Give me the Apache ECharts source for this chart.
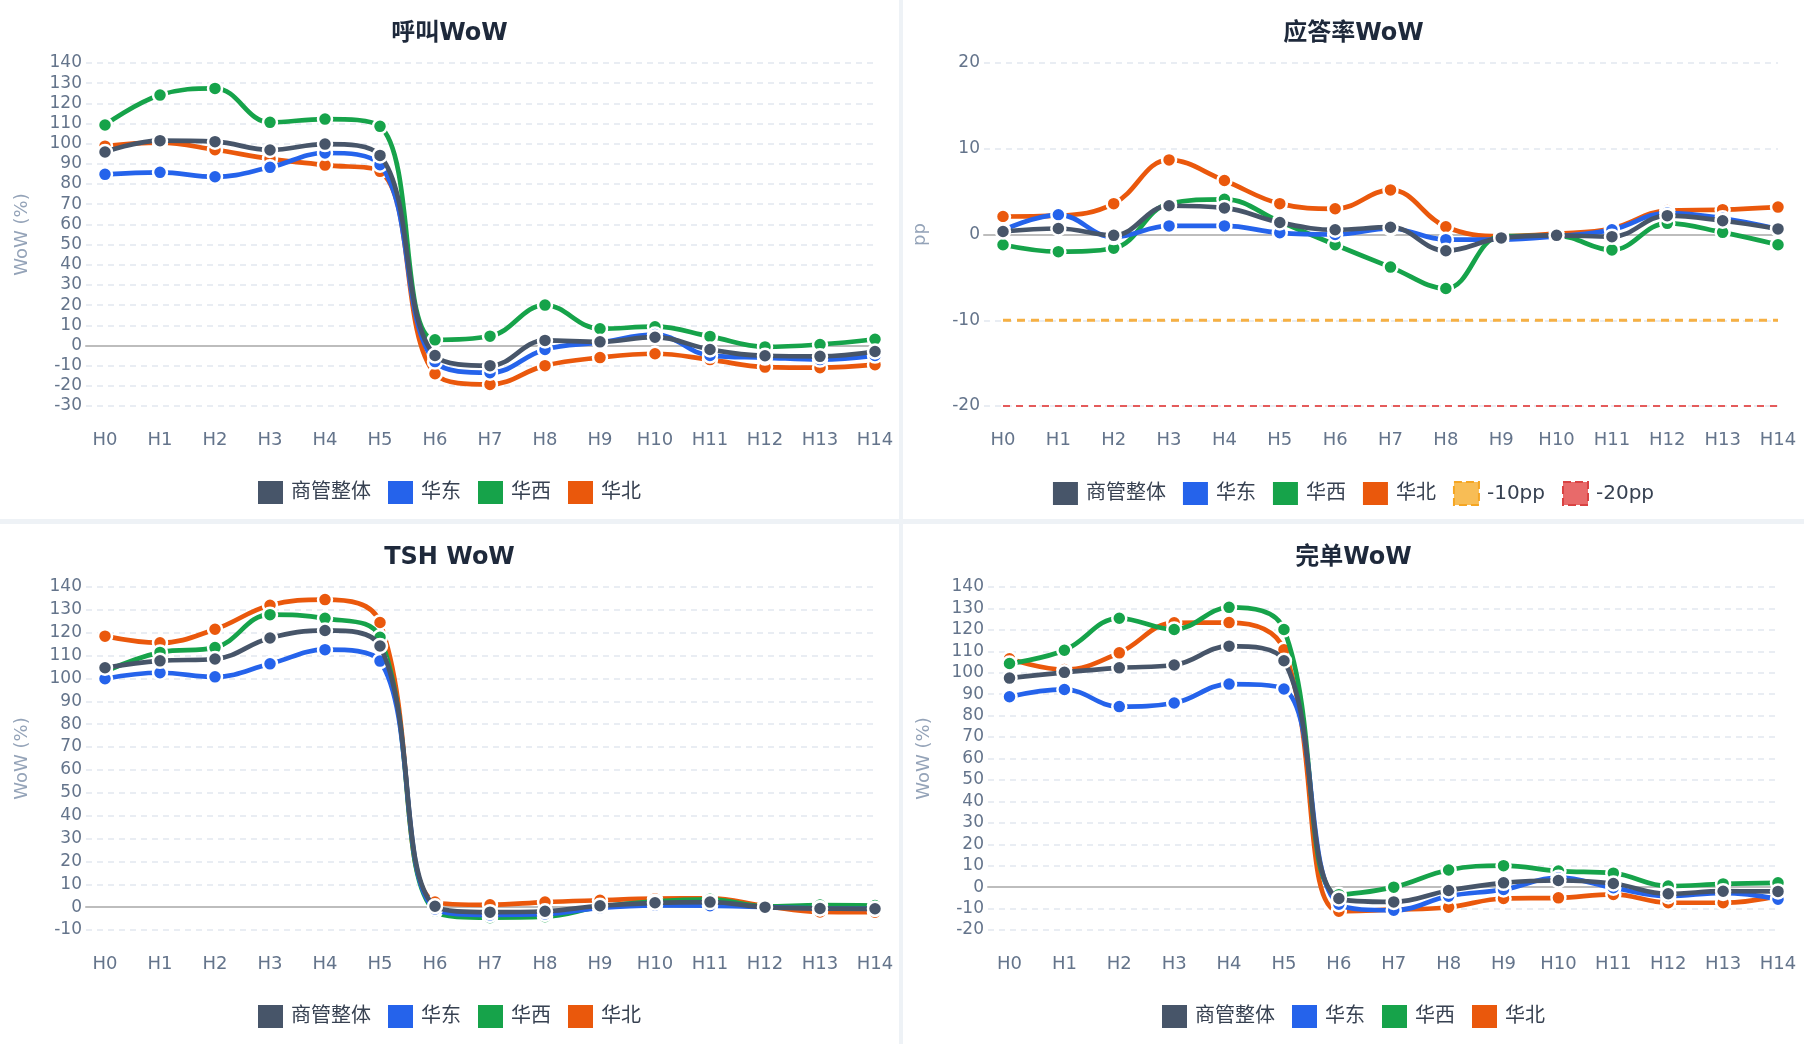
<!DOCTYPE html>
<html>
<head>
<meta charset="utf-8">
<script src="https://cdn.jsdelivr.net/npm/echarts@6/dist/echarts.min.js"></script>
<style>
html,body{margin:0;padding:0;background:#eef2f6;}
#wrap{display:grid;grid-template-columns:899px 901px;grid-template-rows:519px 520px;gap:5px 4px;width:1804px;height:1044px;}
.p{background:#fff;}
</style>
</head>
<body>
<div id="wrap">
<div class="p" id="c0"></div>
<div class="p" id="c1"></div>
<div class="p" id="c2"></div>
<div class="p" id="c3"></div>
</div>
<script>
const categories = ['H0','H1','H2','H3','H4','H5','H6','H7','H8','H9','H10','H11','H12','H13','H14'];
const seriesNames = ['商管整体','华东','华西','华北'];
const colors = ['#475569','#2563eb','#16a34a','#ea580c'];

// 呼叫WoW
const callTotal = [95.9, 101.5, 101, 96.9, 99.8, 94.2, -5, -10, 2.5, 1.8, 4.1, -2, -5.1, -5.4, -3];
const callEast  = [84.8, 85.8, 83.6, 88.3, 95.4, 89.6, -8, -13.5, -2, 1.5, 5.4, -5, -6, -7, -5];
const callWest  = [109.3, 124.1, 127.4, 110.6, 112.2, 108.6, 2.8, 4.6, 20, 8.3, 9.3, 4.5, -0.7, 0.5, 3.1];
const callNorth = [98.8, 100.5, 97, 92.5, 89.4, 86.3, -14, -19.3, -10, -6, -4.1, -7, -10.7, -11, -9.5];

// 应答率WoW (pp)
const ansTotal = [0.35, 0.7, -0.1, 3.35, 3.1, 1.4, 0.55, 0.85, -1.9, -0.4, -0.1, -0.25, 2.2, 1.6, 0.65];
const ansEast  = [0.5, 2.3, -0.3, 1.0, 1.0, 0.2, 0, 0.7, -0.6, -0.6, -0.2, 0.55, 2.5, 1.9, 0.65];
const ansWest  = [-1.2, -2.0, -1.6, 3.6, 4.1, 1.5, -1.2, -3.8, -6.3, -0.2, -0.15, -1.8, 1.3, 0.25, -1.2];
const ansNorth = [2.1, 2.2, 3.6, 8.7, 6.3, 3.6, 3.0, 5.2, 0.9, -0.2, 0.1, 0.7, 2.8, 2.9, 3.2];
const line10 = [-10,-10,-10,-10,-10,-10,-10,-10,-10,-10,-10,-10,-10,-10,-10];
const line20 = [-20,-20,-20,-20,-20,-20,-20,-20,-20,-20,-20,-20,-20,-20,-20];

// TSH WoW
const tshTotal = [104.7, 107.7, 108.5, 117.7, 121, 114.2, 0.4, -2.2, -1.8, 0.6, 1.9, 2.2, 0, -0.6, -0.7];
const tshEast  = [99.9, 102.5, 100.7, 106.4, 112.6, 107.6, -0.8, -3.4, -3, -0.3, 0.8, 0.6, 0, -0.5, -0.8];
const tshWest  = [103, 111.4, 113.5, 127.9, 126.3, 118, -1.8, -4.6, -4.2, 0.1, 2.5, 3.4, 0.3, 0.9, 0.7];
const tshNorth = [118.5, 115.6, 121.5, 132, 134.5, 124.5, 2.2, 1.0, 2.2, 3, 3.7, 3.8, 0.5, -2.1, -2.2];

// 完单WoW
const doneTotal = [97.5, 100.2, 102.3, 103.6, 112.4, 105.6, -5.3, -6.9, -1.6, 2, 3.1, 1.7, -3.1, -1.9, -2];
const doneEast  = [88.8, 92.2, 84.2, 85.9, 94.7, 92.4, -8, -10.8, -4.2, -1.1, 4.4, -0.3, -4.2, -2.7, -5.6];
const doneWest  = [104.3, 110.5, 125.4, 120.2, 130.5, 120.2, -3.5, 0, 8, 10, 7.5, 6.5, 0.5, 1.5, 2];
const doneNorth = [106.5, 101.5, 109.3, 123.3, 123.4, 110.7, -11.2, -10.5, -9.4, -5.3, -5, -3.4, -7.3, -7.3, -4.2];

const FONT = "'DejaVu Sans','Noto Sans CJK SC',sans-serif";

const panels = [
  {el:'c0', title:'呼叫WoW', yName:'WoW (%)', min:-30, max:140, interval:10, leftA:86, leftB:105, right:24, data:[callTotal,callEast,callWest,callNorth]},
  {el:'c1', title:'应答率WoW', yName:'pp', min:-20, max:20, interval:10, leftA:80, leftB:100, right:26, data:[ansTotal,ansEast,ansWest,ansNorth], thresholds:true},
  {el:'c2', title:'TSH WoW', yName:'WoW (%)', min:-10, max:140, interval:10, leftA:86, leftB:105, right:24, data:[tshTotal,tshEast,tshWest,tshNorth]},
  {el:'c3', title:'完单WoW', yName:'WoW (%)', min:-20, max:140, interval:10, leftA:85, leftB:106.5, right:26, data:[doneTotal,doneEast,doneWest,doneNorth]}
];

panels.forEach(p => {
  const chart = echarts.init(document.getElementById(p.el), null, {renderer:'canvas'});
  const series = [];
  const zs = [5,4,3,2];
  p.data.forEach((d,i) => {
    series.push({
      name: seriesNames[i], type:'line', xAxisIndex:1, yAxisIndex:1,
      data: d, smooth: 0.4, symbol:'circle', symbolSize:14, showAllSymbol:true,
      z: zs[i],
      lineStyle:{width:4.7, color:colors[i]},
      itemStyle:{color:colors[i], borderColor:'#fff', borderWidth:2.5},
      emphasis:{disabled:true}
    });
  });
  const legendData = seriesNames.map((n,i)=>({name:n, itemStyle:{color:colors[i], borderWidth:0}}));
  if (p.thresholds) {
    series.push({
      name:'-10pp', type:'line', xAxisIndex:1, yAxisIndex:1, data: line10, symbol:'none', z:1,
      lineStyle:{width:3, color:'#f6b043', type:[8,6]}, itemStyle:{color:'#f6b043'}, emphasis:{disabled:true}
    });
    series.push({
      name:'-20pp', type:'line', xAxisIndex:1, yAxisIndex:1, data: line20, symbol:'none', z:1,
      lineStyle:{width:1.8, color:'#e45b5b', type:[7,6]}, itemStyle:{color:'#e45b5b'}, emphasis:{disabled:true}
    });
    legendData.push({name:'-10pp', itemStyle:{color:'#f8bd55', borderColor:'#f5a623', borderWidth:2, borderType:'dashed'}});
    legendData.push({name:'-20pp', itemStyle:{color:'#e86a6a', borderColor:'#d94343', borderWidth:2, borderType:'dashed'}});
  }
  const option = {
    animation:false,
    textStyle:{fontFamily:FONT},
    title:{text:p.title, left:'center', top:17, textStyle:{fontSize:24, fontWeight:'bold', color:'#1e293b', fontFamily:FONT}},
    legend:{data:legendData, top:476, left:'center', icon:'rect', itemWidth:25, itemHeight:23, itemGap:17,
      textStyle:{fontSize:20, color:'#374151', fontFamily:FONT, padding:[0,0,0,3]}},
    grid:[
      {left:p.leftA, right:p.right, top:63, height:343},
      {left:p.leftB, right:p.right, top:63, height:343}
    ],
    xAxis:[
      {type:'value', gridIndex:0, min:0, max:1, axisLabel:{show:false}, splitLine:{show:false}, axisTick:{show:false},
       axisLine:{show:true, onZero:true, lineStyle:{color:'#bdbdbd', width:2}}},
      {type:'category', gridIndex:1, data:categories, boundaryGap:false,
       axisLine:{show:false, onZero:false}, axisTick:{show:false}, splitLine:{show:false},
       axisLabel:{interval:0, margin:25, fontSize:18, color:'#64748b', fontFamily:FONT}}
    ],
    yAxis:[
      {type:'value', gridIndex:0, min:p.min, max:p.max, interval:p.interval,
       name:p.yName, nameLocation:'middle', nameGap:55, nameRotate:90,
       nameTextStyle:{fontSize:18, color:'#94a3b8', fontFamily:FONT},
       axisLine:{show:false}, axisTick:{show:false},
       axisLabel:{fontSize:17, color:'#64748b', margin:4, fontFamily:FONT},
       splitLine:{show:true, lineStyle:{color:'#e2e8f0', width:1.5, type:[6,5]}}},
      {type:'value', gridIndex:1, min:p.min, max:p.max, interval:p.interval, show:false,
       splitLine:{show:false}}
    ],
    series: series
  };
  chart.setOption(option);
});
</script>
</body>
</html>
